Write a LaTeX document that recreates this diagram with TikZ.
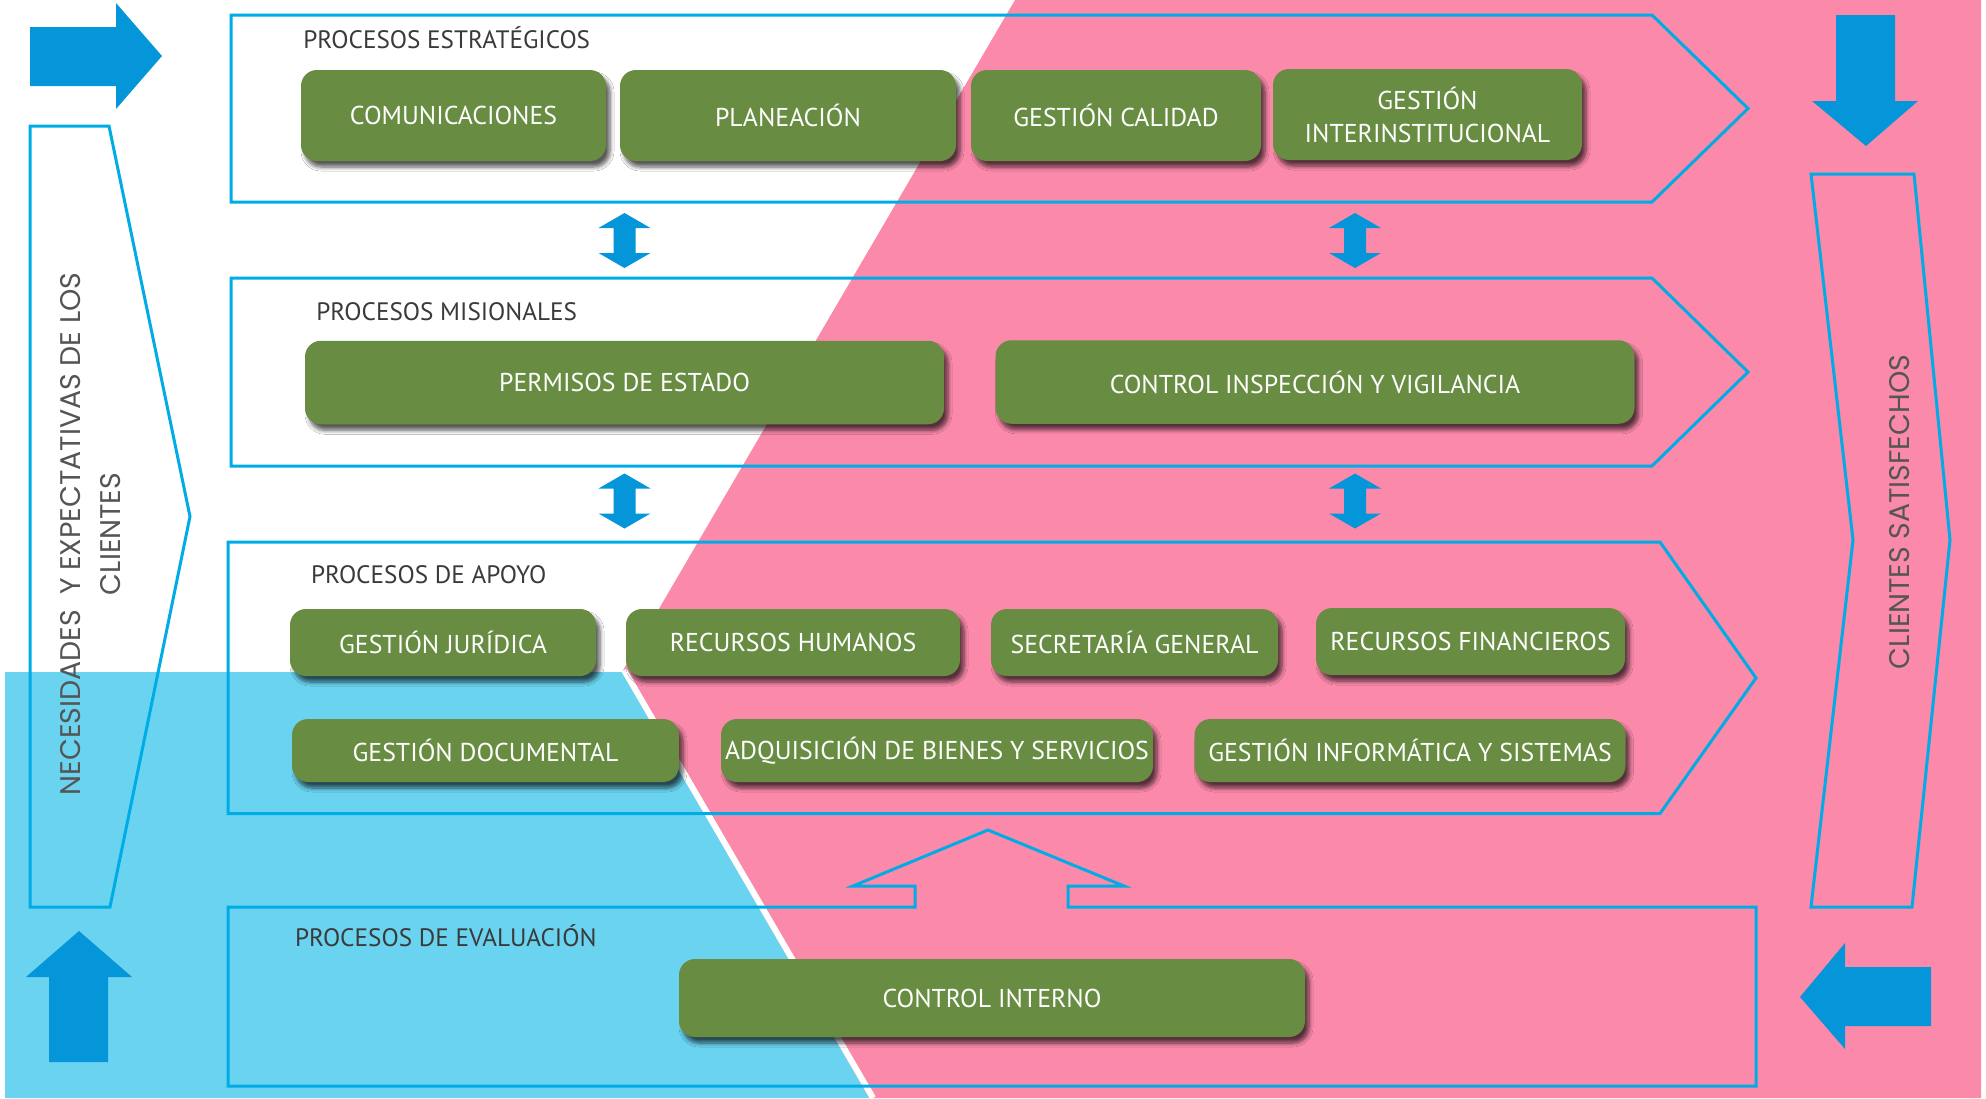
\documentclass[tikz,border=0pt]{standalone}
\usepackage{fontspec}
\setmainfont{PT Sans}
\newfontfamily\sidefont{Poppins}
\usepackage{xcolor}
\usetikzlibrary{shadows.blur}

\definecolor{pinkbg}{RGB}{250,137,170}
\definecolor{bluebg}{RGB}{106,211,240}
\definecolor{arrowblue}{RGB}{5,150,218}
\definecolor{lineblue}{RGB}{0,172,230}
\definecolor{boxgreen}{RGB}{103,140,66}
\definecolor{labelgray}{RGB}{58,58,58}
\definecolor{sidegray}{RGB}{85,85,85}

\begin{document}
\begin{tikzpicture}[x=0.5pt, y=-0.5pt,
    gbox/.style={fill=boxgreen, rounded corners=8pt, text=white,
                 font=\fontsize{12.9}{16.5}\selectfont, align=center, inner sep=0pt,
                 blur shadow={shadow xshift=2pt, shadow yshift=-3pt,
                              shadow opacity=65, shadow blur steps=6}},
    chev/.style={draw=lineblue, line width=1.5pt},
    title/.style={anchor=base west, inner sep=0pt, text=labelgray,
                  font=\fontsize{12.6}{15}\selectfont},
    side/.style={rotate=90, align=center, inner sep=0pt, text=sidegray,
                 font=\sidefont\fontsize{14.2}{20}\selectfont}]
  \useasboundingbox (0,0) rectangle (1986,1098);
  \fill[white] (0,0) rectangle (1986,1098);
  \fill[pinkbg] (1015,0) -- (1981,0) -- (1981,1098) -- (869,1098) -- (622,672) -- cycle;
  \fill[bluebg] (5,672) -- (622,672) -- (869,1098) -- (5,1098) -- cycle;
  \draw[white, line width=3pt] (624,670) -- (873,1098);

  \draw[chev] (231,15) -- (1652,15) -- (1748,108.5) -- (1652,202) -- (231,202) -- cycle;
  \draw[chev] (231,278) -- (1652,278) -- (1748,372) -- (1652,466) -- (231,466) -- cycle;
  \draw[chev] (228,542) -- (1660,542) -- (1756,678) -- (1660,813.5) -- (228,813.5) -- cycle;
  \draw[chev] (228,907) -- (915,907) -- (915,886) -- (853,886) -- (988,830) -- (1124,886)
    -- (1068,886) -- (1068,907) -- (1756,907) -- (1756,1086) -- (228,1086) -- cycle;
  \draw[chev] (30,126) -- (109,126) -- (190,516.5) -- (110,907) -- (30,907) -- cycle;
  \draw[chev] (1811,174) -- (1914,174) -- (1950,540) -- (1912,907) -- (1811,907) -- (1853,540) -- cycle;

  \fill[arrowblue] (30,27) -- (116,27) -- (116,3) -- (162,56) -- (116,109) -- (116,86) -- (30,86) -- cycle;
  \fill[arrowblue] (1836,15) -- (1895,15) -- (1895,101) -- (1918,101) -- (1866,146) -- (1812,101) -- (1836,101) -- cycle;
  \fill[arrowblue] (49,1062) -- (49,977) -- (26,977) -- (79,931) -- (132,977) -- (108,977) -- (108,1062) -- cycle;
  \fill[arrowblue] (1931,967) -- (1845,967) -- (1845,943) -- (1800,997) -- (1845,1049) -- (1845,1026) -- (1931,1026) -- cycle;
  \foreach \cx in {624.5,1355}
    \foreach \cy in {240.5,501}
      \fill[arrowblue, shift={(\cx,\cy)}] (-11,-12.5) -- (-26,-12.5) -- (0,-27.5) -- (26,-12.5) -- (11,-12.5)
        -- (11,12.5) -- (26,12.5) -- (0,27.5) -- (-26,12.5) -- (-11,12.5) -- cycle;

  \node[title] (estr) at (303,48) {PROCESOS ESTRATÉGICOS};
  \node[title] (mision) at (316,320) {PROCESOS MISIONALES};
  \node[title] (apoyo) at (310.6,583) {PROCESOS DE APOYO};
  \node[title] (evalua) at (294.6,946) {PROCESOS DE EVALUACIÓN};

  \node[gbox, minimum width=152.5pt, minimum height=45.5pt] (com) at (453.5,115.5) {COMUNICACIONES};
  \node[gbox, minimum width=168pt, minimum height=45.5pt] (plan) at (788,115.5) {PLANEACIÓN};
  \node[gbox, minimum width=145pt, minimum height=45.5pt] (cal) at (1116,115.5) {GESTIÓN CALIDAD};
  \node[gbox, minimum width=154.5pt, minimum height=45.5pt] (inter) at (1427.5,114.5) {GESTIÓN\\INTERINSTITUCIONAL};

  \node[gbox, minimum width=319.5pt, minimum height=41.75pt] (perm) at (624.5,382.5) {PERMISOS DE ESTADO};
  \node[gbox, minimum width=319.5pt, minimum height=41.75pt] (civ) at (1315,382) {CONTROL INSPECCIÓN Y VIGILANCIA};

  \node[gbox, minimum width=153pt, minimum height=33.5pt] (jur) at (443,642.5) {GESTIÓN JURÍDICA};
  \node[gbox, minimum width=167pt, minimum height=33.5pt] (rh) at (793,642.5) {RECURSOS HUMANOS};
  \node[gbox, minimum width=143.5pt, minimum height=33.5pt] (sg) at (1134.5,642.5) {SECRETARÍA GENERAL};
  \node[gbox, minimum width=154.5pt, minimum height=33.5pt] (rf) at (1470.5,641.5) {RECURSOS FINANCIEROS};
  \node[gbox, minimum width=193.5pt, minimum height=31.5pt] (doc) at (485.5,750.5) {GESTIÓN DOCUMENTAL};
  \node[gbox, minimum width=216pt, minimum height=31.5pt] (adq) at (937,750.5) {ADQUISICIÓN DE BIENES Y SERVICIOS};
  \node[gbox, minimum width=215.5pt, minimum height=31.5pt] (inf) at (1410,750.5) {GESTIÓN INFORMÁTICA Y SISTEMAS};

  \node[gbox, minimum width=313pt, minimum height=39pt] (ci) at (992,998) {CONTROL INTERNO};

  \node[side] (necesid) at (91,534) {NECESIDADES\ \ Y EXPECTATIVAS DE LOS\\CLIENTES};
  \node[side] (satisf) at (1900,512) {CLIENTES SATISFECHOS};
\end{tikzpicture}
\end{document}
